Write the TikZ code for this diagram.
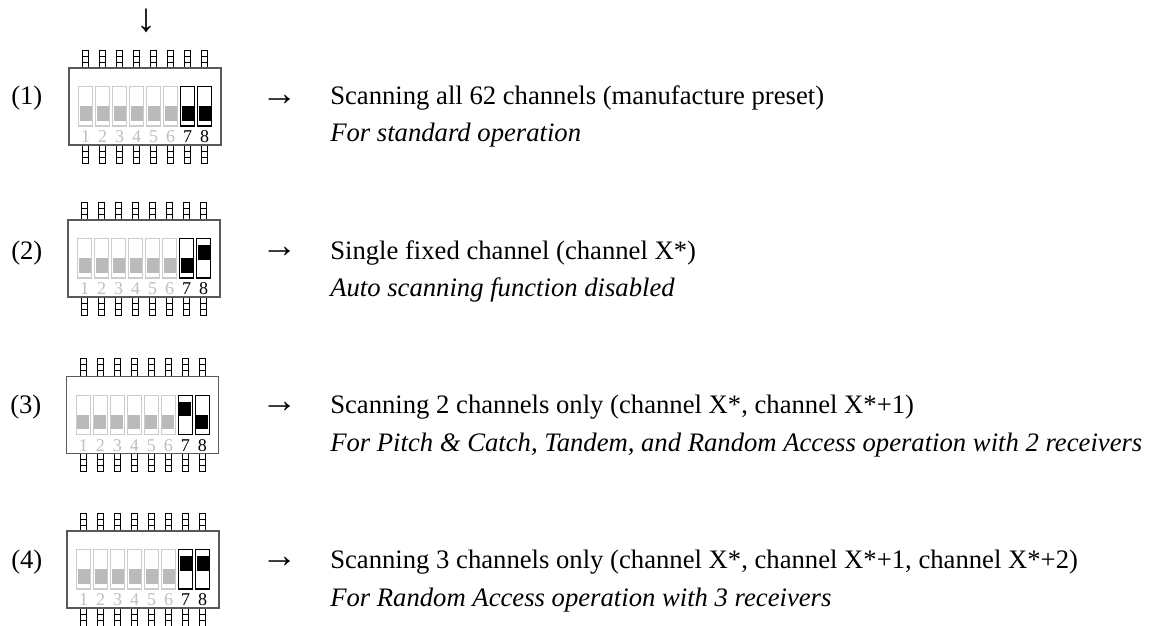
\documentclass[tikz,border=0pt]{standalone}
\usepackage{fontspec}
\setmainfont{Liberation Serif}
\tikzset{
 x=0.75pt,y=-0.75pt,
 chipbody/.style={draw=black!65,line width=0.9pt,fill=white},
 pinbox/.style={draw=black,line width=0.6pt,fill=white},
 onsw/.style={draw=black,line width=0.9pt,fill=white},
 offsw/.style={draw=black!20,line width=0.9pt,fill=white},
 onfill/.style={fill=black},
 offfill/.style={fill=black!27},
 lab/.style={font=\fontsize{20pt}{24pt}\selectfont,anchor=base west,inner sep=0pt},
 ilab/.style={lab,font=\fontsize{20pt}{24pt}\selectfont\itshape},
 arr/.style={lab,font=\fontsize{27pt}{27pt}\selectfont},
 numon/.style={font=\fontsize{13.5pt}{16pt}\selectfont,text=black,inner sep=0pt},
 numoff/.style={font=\fontsize{13.5pt}{16pt}\selectfont,text=black!25,inner sep=0pt},
}
\newcommand{\chipat}[4]{%
 \begin{scope}[shift={(#1,#2)}]
 \foreach \i in {0,...,7}{
  \pgfmathsetmacro{\px}{16.7+17*\i}
  \foreach \yy in {-18,-12,-6,77,83,89}{
   \draw[pinbox] (\px-3,\yy) rectangle (\px+3,\yy+6);
  }
 }
 \draw[chipbody] (0,0) rectangle (152,77);
 \foreach \i/\nm in {0/1,1/2,2/3,3/4,4/5,5/6}{
  \pgfmathsetmacro{\sx}{9.7+17*\i}
  \draw[offsw] (\sx,18.5) rectangle (\sx+14,58);
  \fill[offfill] (\sx+1,38) rectangle (\sx+13,52.5);
  \node[numoff] at (\sx+7,68.5) {\nm};
 }
 \draw[onsw] (111.7,18.5) rectangle (125.7,58);
 \fill[onfill] (112.7,#3) rectangle (124.7,#3+14.5);
 \node[numon] at (118.7,68.5) {7};
 \draw[onsw] (128.7,18.5) rectangle (142.7,58);
 \fill[onfill] (129.7,#4) rectangle (141.7,#4+14.5);
 \node[numon] at (135.7,68.5) {8};
 \end{scope}
}
\begin{document}
\begin{tikzpicture}
\useasboundingbox (0,0) rectangle (1156,625);
\fill[white] (0,0) rectangle (1156,625);
\node[inner sep=0pt,font=\fontsize{30pt}{30pt}\selectfont] (dn) at (146,21) {↓};
\chipat{69}{68}{38}{38}
\chipat{68}{220}{38}{25}
\chipat{66.7}{376.7}{25}{38}
\chipat{67}{531}{25}{25}
\node[lab] (n1) at (11,104) {(1)};
\node[lab] (n2) at (11,259) {(2)};
\node[lab] (n3) at (10,413) {(3)};
\node[lab] (n4) at (11,568) {(4)};
\node[arr] (a1) at (261,105) {→};
\node[arr] (a2) at (261,257) {→};
\node[arr] (a3) at (261,412) {→};
\node[arr] (a4) at (261,567) {→};
\node[lab] (t1) at (330,104) {Scanning all 62 channels (manufacture preset)};
\node[ilab] (s1) at (330,141) {For standard operation};
\node[lab] (t2) at (330,259) {Single fixed channel (channel X*)};
\node[ilab] (s2) at (330,296.5) {Auto scanning function disabled};
\node[lab] (t3) at (330,413) {Scanning 2 channels only (channel X*, channel X*+1)};
\node[ilab] (s3) at (330,451) {For Pitch \& Catch, Tandem, and Random Access operation with 2 receivers};
\node[lab] (t4) at (330,568) {Scanning 3 channels only (channel X*, channel X*+1, channel X*+2)};
\node[ilab] (s4) at (330,606) {For Random Access operation with 3 receivers};
\end{tikzpicture}
\end{document}
